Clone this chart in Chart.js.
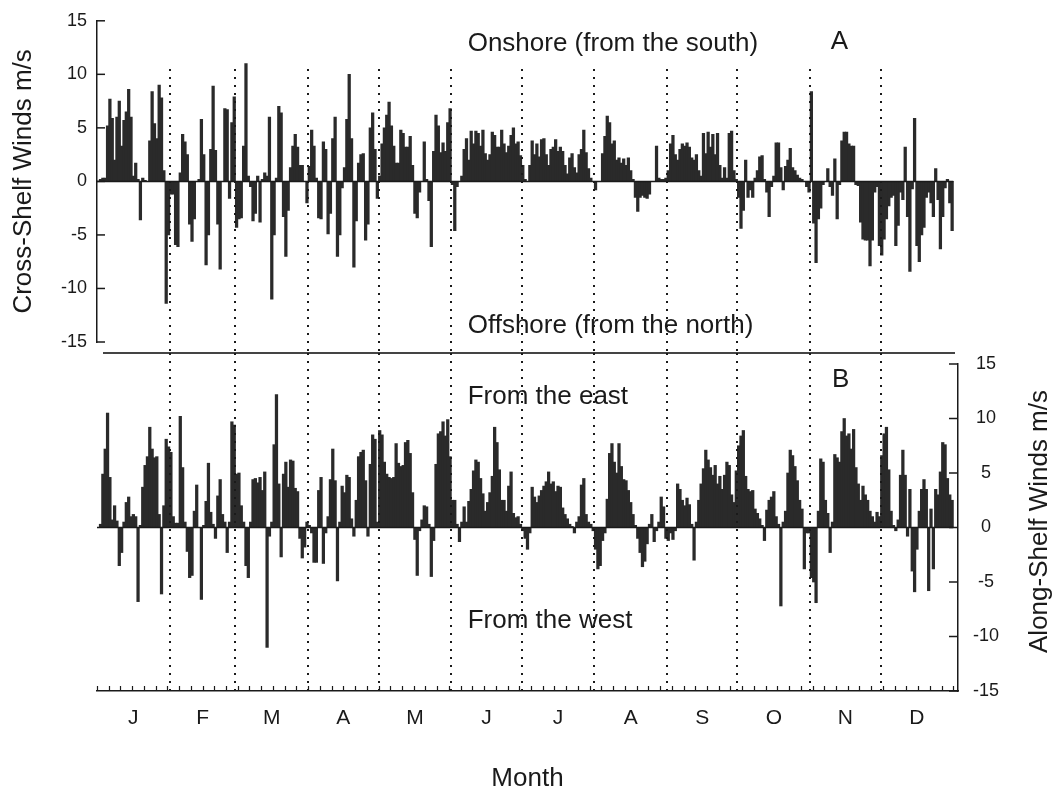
<!DOCTYPE html>
<html>
<head>
<meta charset="utf-8">
<script src="https://cdn.jsdelivr.net/npm/chart.js@4.4.1/dist/chart.umd.min.js"></script>
<style>
    html, body { margin: 0; padding: 0; background: #fff; }
    #wrap { position: relative; width: 1062px; height: 794px; }
    #wrap canvas { position: absolute; left: 0; top: 0; }
</style>
</head>
<body>
<div id="wrap">
    <canvas id="chartCross" width="1062" height="794"></canvas>
    <canvas id="chartAlong" width="1062" height="794"></canvas>
</div>
<script>
// months
const monthDays = [31, 28, 31, 30, 31, 30, 31, 31, 30, 31, 30, 31]
const monthLetters = ['J', 'F', 'M', 'A', 'M', 'J', 'J', 'A', 'S', 'O', 'N', 'D']
const yTicks = [-15, -10, -5, 0, 5, 10, 15]

// cross-shelf winds (m/s), one value per day
const crossJan = [0, 0.2, 0.3, 0.3, 5.2, 7.7, 5.9, 2, 6, 7.5, 3.3, 5.7, 6.5, 8.6, 6, 0.5, 1.7, 0.2, -3.6, 0.3, 0.1, 0, 3.8, 8.4, 5.4, 4, 9, 7.8, 1, -11.4, -5]
const crossFeb = [-1.2, -1.2, -5.9, -6.1, 0.8, 4.4, 3.7, 2.5, -4, -5.6, -3.5, 0, 0.2, 5.8, 2.5, -7.8, -5, 3, 8.9, 2.9, -4, -8.2, 0, 6.8, 6.7, -1.6, 5.5, 7.9]
const crossMar = [-4.3, -3.5, -3.4, 3.3, 11, 0.5, -0.5, -3.7, -3, 0.5, -3.8, 0.2, 0.8, 0.5, 6, -11, -5, 0.3, 7, 6.4, -3.3, -7, -2.7, 1.3, 3.3, 4.4, 3.2, 1.5, 1.5, 0, -2]
const crossApr = [1.4, 4.8, 3.3, 0.3, -3.4, -3.5, 3.7, 3, -4.9, -3, 4, 6, -7, -5, -0.6, 1.3, 5.8, 10, 4, -8, -3.7, 1.7, 2.5, 2.6, -5.5, -4, 5, 6.4, 3, -1.6]
const crossMay = [0.5, 3.5, 5, 6.2, 7.4, 5.2, 3.3, 1.7, 1.7, 4.8, 4.5, 3.2, 3.2, 4.2, 1.5, -3, -3.4, -1, 0, 3.7, 0.2, -1.8, -6.1, 2.8, 6.2, 5.2, 2.7, 3.6, 2.8, 5.5, 6.8]
const crossJun = [-0.3, -4.6, -0.5, 0, 0.5, 3, 4, 2, 4.7, 3.5, 4.7, 4.5, 3.3, 4.8, 2.6, 2, 2.5, 4.6, 4.3, 3.2, 3.2, 4.8, 3.5, 2.7, 3.3, 4.3, 5, 3.5, 3.7, 2.4]
const crossJul = [1.5, 0.2, 0, 1.5, 3.8, 2.5, 3.5, 2.3, 3.9, 4, 2.5, 1.5, 3, 3.2, 3.9, 2.8, 3.2, 2.8, 1.5, 0.7, 2.2, 2.6, 1.3, 0.8, 2.5, 3, 4.8, 2.7, 1.2, 0.3, 0]
const crossAug = [-0.8, 0, 0, 2.6, 4.2, 6.1, 5.5, 3.5, 3.8, 2, 2.2, 1.7, 2.1, 1.5, 2.2, 1, 0.2, -1.5, -2.8, -1.5, -1.3, -1.5, -1.6, -1.2, 0, 0, 3.3, 0.3, 0.2, 0.2, 0.3]
const crossSep = [1, 3.5, 4.3, 2.5, 2, 3, 3.5, 3.3, 3.6, 3.2, 2.2, 2, 2.5, 1, 0.5, 4.5, 2.6, 4.6, 3.2, 4.4, 2.5, 4.5, 1.5, 0.3, 1.3, 0.3, 4.5, 4.7, 1, 0.2]
const crossOct = [-1.5, -4.4, -2.7, 2, -1.5, -0.8, -1.5, 0.3, 1, 2.3, 2.4, 0.2, -1, -3.3, -0.5, 0.5, 3.6, 3.6, 1.3, -0.8, 1.4, 2, 3.1, 1.3, 1, 0.6, 0.3, 0.2, 0, -0.5, -1]
const crossNov = [8.4, -3.9, -7.6, -3.5, -2.5, -0.3, 0, 1.2, -0.5, -1.3, 2.1, -3.5, -0.3, 3.8, 4.6, 4.6, 3.5, 3.3, 3.3, -0.3, -0.4, -3.8, -5.4, -5.5, -5.5, -7.9, -5.5, -1, -0.5, -6]
const crossDec = [-6.9, -5.4, -3.5, -2.3, -1.5, -1.3, -6, -4.1, -1, -1.7, 3.2, -3.3, -8.4, -0.7, 5.9, -6, -7.5, -5, -4.3, -1.5, -1, -2, -3.3, 1.2, -1.7, -6.3, -3.3, -0.6, 0.2, -2, -4.6]

// along-shelf winds (m/s), one value per day
const alongJan = [0, 0.3, 4.9, 7.2, 10.5, 4.6, 0.7, 2, 0.6, -3.5, -2.3, 0.5, 2.3, 2.8, 1, 1.2, 1, -6.8, 0.2, 3.7, 5.7, 6.5, 9.2, 7.2, 6.4, 6.5, 1.2, -6.1, 2, 8.1, 7.4]
const alongFeb = [6.9, 1, 0.4, 0.4, 10.2, 5.5, 0.5, -2.2, -4.6, -4.4, 1.5, 3.9, 0, -6.6, 0.2, 2.4, 5.9, 1.4, 0.3, -1, 2.9, 4.4, 1.2, 0.5, -2.3, 0.5, 9.7, 9.4]
const alongMar = [4.9, 5, 2, 0.5, -3.5, -4.6, 0.5, 4.4, 4.5, 4.1, 4.6, 3.4, 5.1, -11, -0.8, 0.5, 7.6, 12.2, 4, -2.7, 4.9, 6, 3.7, 6.2, 6.1, 3.6, 3.3, -1, -2.8, -1.8, 0.5]
const alongApr = [0.2, -0.5, -3.2, -3.2, 3.4, 4.6, -3.3, -0.5, 1, 4.4, 7.2, 4.3, -4.9, 0.5, 3.8, 3.2, 4.8, 4.6, 0.8, -0.8, 2.5, 6.5, 6.9, 7.1, 4.3, -0.8, 5.8, 8.5, 8.1, 0.5]
const alongMay = [8.9, 8.5, 6, 4.9, 4.6, 4.5, 4.6, 7.7, 5.9, 5.6, 5.7, 7.8, 8, 6.8, 3.2, -1.1, -4.4, -0.3, 0.7, 2, 1.9, 0.3, -4.5, -1.2, 5.8, 8.6, 8.8, 9.7, 8.4, 9.9, 6.5]
const alongJun = [2.5, 2.5, 0.3, -1.3, 0.5, 1.9, 0.5, 2.4, 3.5, 5.2, 6.2, 6, 4.5, 3.1, 1.5, 2.3, 3.2, 4.7, 9.2, 7.8, 5.3, 2.5, 2.5, 1.5, 3.8, 5.1, 1.3, 0.9, 1, 0.3]
const alongJul = [-0.3, -1, -2, -0.5, 3.7, 2.8, 2.3, 2.9, 3.4, 3.8, 4.2, 5.1, 4, 4.2, 3.3, 3.8, 3.7, 1.8, 1.2, 0.8, 0.3, 0.1, -0.5, 0.5, 1, 3.9, 4.5, 1.2, 0.5, 0.3, -0.3]
const alongAug = [-2, -3.8, -3.5, -1.2, -0.5, 2.6, 6.8, 7.7, 6, 5, 7.7, 5.6, 4.4, 4.3, 3.4, 2.3, 1.2, 0.2, -1, -2.3, -3.6, -3.1, -1.5, 0.3, 1.2, -1.3, -0.3, 0.5, 2.8, 1.9, -1]
const alongSep = [-1.2, -0.5, -1.1, -0.3, 4, 3.5, 2.5, 2, 2.7, 2.1, 0.3, -3, 0.5, 2.5, 4, 5.4, 7.1, 6.2, 5.5, 4.8, 5.7, 4, 4.7, 3.5, 4.8, 6, 5.7, 3, 2.3, 5.2]
const alongOct = [7.5, 8.4, 8.9, 4.7, 3.5, 3.3, 3.4, 1.7, 1.3, 0.8, 0.2, -1.2, 1.6, 2.5, 2.8, 3.3, 1, 0.3, -7.2, 0.5, 1.5, 5, 7.1, 6.6, 5.6, 4.3, 2.5, 1.7, -3.8, -0.5, -0.5]
const alongNov = [-4.6, -5, -6.9, 1.5, 6.3, 6, 2.5, 1.3, -2.3, 0.5, 6.7, 6.4, 6, 8.8, 10, 8.4, 8.6, 7.2, 9, 5.5, 4, 2.5, 3.8, 3, 2.5, 1.5, 1, 0.5, 1.4, 1]
const alongDec = [6.6, 8.6, 9.2, 5.3, 1.5, 0.2, -0.3, 0.7, 4.8, 7.1, 4.8, -0.8, 3.5, -4, -5.9, -2, 1.5, 3.5, 4.4, 3.5, -5.8, 1.7, -3.8, 3.5, 3, 5.1, 7.8, 7.6, 4.5, 3, 2.5]

const cross = [].concat(crossJan, crossFeb, crossMar, crossApr, crossMay, crossJun, crossJul, crossAug, crossSep, crossOct, crossNov, crossDec)
const along = [].concat(alongJan, alongFeb, alongMar, alongApr, alongMay, alongJun, alongJul, alongAug, alongSep, alongOct, alongNov, alongDec)

const FONT = '"Liberation Sans", Arial, Helvetica, sans-serif'
const ink = '#1a1a1a'
const barColor = '#2a2a2a'
const dayMax = 367

Chart.defaults.font.family = FONT
Chart.defaults.color = ink

// month boundaries and mid points (days)
const monthEnds = []
const monthMid = []
let acc = 0
monthDays.forEach(d => { monthMid.push(acc + d / 2); acc += d; monthEnds.push(acc) })
monthEnds.pop()

const toPoints = arr => arr.map((v, i) => ({ x: i + 0.5, y: v }))

function hline(ctx, x0, x1, y) {
    ctx.beginPath(); ctx.moveTo(x0, y); ctx.lineTo(x1, y); ctx.stroke()
}
function vline(ctx, x, y0, y1) {
    ctx.beginPath(); ctx.moveTo(x, y0); ctx.lineTo(x, y1); ctx.stroke()
}
function monthLines(ctx, xScale, y0, y1) {
    ctx.save()
    ctx.strokeStyle = ink
    ctx.lineWidth = 2
    ctx.setLineDash([2, 6])
    monthEnds.forEach(d => vline(ctx, Math.round(xScale.getPixelForValue(d)), y0, y1))
    ctx.restore()
}
function label(ctx, txt, x, y, size, align) {
    ctx.save()
    ctx.fillStyle = ink
    ctx.font = size + 'px ' + FONT
    ctx.textAlign = align
    ctx.textBaseline = 'alphabetic'
    ctx.fillText(txt, x, y)
    ctx.restore()
}

// decorations of panel A
const crossDeco = {
    id: 'crossDeco',
    afterDatasetsDraw(chart) {
        const { ctx, chartArea: a, scales: { x, y } } = chart
        const divY = a.bottom + 11
        ctx.save()
        ctx.strokeStyle = ink
        ctx.lineWidth = 1.5
        hline(ctx, x.getPixelForValue(0), x.getPixelForValue(365), y.getPixelForValue(0))
        yTicks.forEach(v => hline(ctx, a.left, a.left + 8, y.getPixelForValue(v)))
        ctx.strokeStyle = '#444'
        ctx.lineWidth = 2
        hline(ctx, a.left + 6, a.right - 3, divY)
        ctx.restore()
        monthLines(ctx, x, y.getPixelForValue(10.5), divY)
        label(ctx, 'Onshore (from the south)', x.getPixelForValue(158), y.getPixelForValue(12.2), 26, 'left')
        label(ctx, 'A', x.getPixelForValue(316.5), y.getPixelForValue(12.4), 26, 'center')
        label(ctx, 'Offshore (from the north)', x.getPixelForValue(158), y.getPixelForValue(-14.2), 26, 'left')
    }
}

// decorations of panel B
const alongDeco = {
    id: 'alongDeco',
    afterDatasetsDraw(chart) {
        const { ctx, chartArea: a, scales: { x, y } } = chart
        ctx.save()
        ctx.strokeStyle = ink
        ctx.lineWidth = 1.5
        hline(ctx, x.getPixelForValue(0), x.getPixelForValue(365), y.getPixelForValue(0))
        yTicks.forEach(v => hline(ctx, a.right - 9, a.right, y.getPixelForValue(v)))
        ctx.lineWidth = 1.2
        for (let d = 0; d <= 365; d += 5) {
            const px = Math.round(x.getPixelForValue(d)) + 0.5
            vline(ctx, px, a.bottom, a.bottom - 5)
        }
        ctx.restore()
        monthLines(ctx, x, a.top - 11, a.bottom)
        label(ctx, 'From the east', x.getPixelForValue(158), y.getPixelForValue(11.3), 26, 'left')
        label(ctx, 'From the west', x.getPixelForValue(158), y.getPixelForValue(-9.2), 26, 'left')
        label(ctx, 'B', x.getPixelForValue(317), y.getPixelForValue(12.9), 26, 'center')

        // right axis title, reading upwards
        ctx.save()
        ctx.translate(a.right + 82, (a.top + a.bottom) / 2 - 6)
        ctx.rotate(-Math.PI / 2)
        ctx.fillStyle = ink
        ctx.font = '26px ' + FONT
        ctx.textAlign = 'center'
        ctx.textBaseline = 'middle'
        ctx.fillText('Along-Shelf Winds m/s', 0, 0)
        ctx.restore()
    }
}

const barSet = data => ({
    data: toPoints(data),
    backgroundColor: barColor,
    borderWidth: 0,
    barThickness: 2.6
})

// panel A: cross-shelf
new Chart(document.getElementById('chartCross'), {
    type: 'bar',
    data: { datasets: [barSet(cross)] },
    options: {
        responsive: false,
        animation: false,
        layout: { padding: { left: 0, top: 15, right: 104, bottom: 452 } },
        plugins: { legend: { display: false }, tooltip: { enabled: false } },
        scales: {
            x: { type: 'linear', min: 0, max: dayMax, offset: false, display: false },
            y: {
                position: 'left',
                min: -15, max: 15,
                afterFit: s => { s.width = 97 },
                grid: { display: false, drawTicks: false },
                border: { display: true, color: ink, width: 1.5 },
                ticks: { stepSize: 5, padding: 10, color: ink, font: { size: 18 } },
                title: { display: true, text: 'Cross-Shelf Winds m/s', color: ink, font: { size: 26 }, padding: { top: 8, bottom: 0 } }
            }
        }
    },
    plugins: [crossDeco]
})

// panel B: along-shelf
new Chart(document.getElementById('chartAlong'), {
    type: 'bar',
    data: { datasets: [barSet(along)] },
    options: {
        responsive: false,
        animation: false,
        layout: { padding: { left: 97, top: 364, right: 0, bottom: 0 } },
        plugins: { legend: { display: false }, tooltip: { enabled: false } },
        scales: {
            x: {
                type: 'linear', min: 0, max: dayMax, offset: false, position: 'bottom',
                afterFit: s => { s.height = 103 },
                afterBuildTicks: s => { s.ticks = monthMid.map(v => ({ value: v })) },
                grid: { display: false, drawTicks: false },
                border: { display: true, color: ink, width: 1.5 },
                ticks: { autoSkip: false, maxRotation: 0, padding: 15, color: ink, font: { size: 21 }, callback: (v, i) => monthLetters[i] },
                title: { display: true, text: 'Month', color: ink, font: { size: 26 }, padding: { top: 0, bottom: 0 } }
            },
            y: {
                position: 'right',
                min: -15, max: 15,
                afterFit: s => { s.width = 104 },
                grid: { display: false, drawTicks: false },
                border: { display: true, color: ink, width: 1.5 },
                ticks: { stepSize: 5, padding: 15, crossAlign: 'center', color: ink, font: { size: 18 } }
            }
        }
    },
    plugins: [alongDeco]
})
</script>
</body>
</html>
